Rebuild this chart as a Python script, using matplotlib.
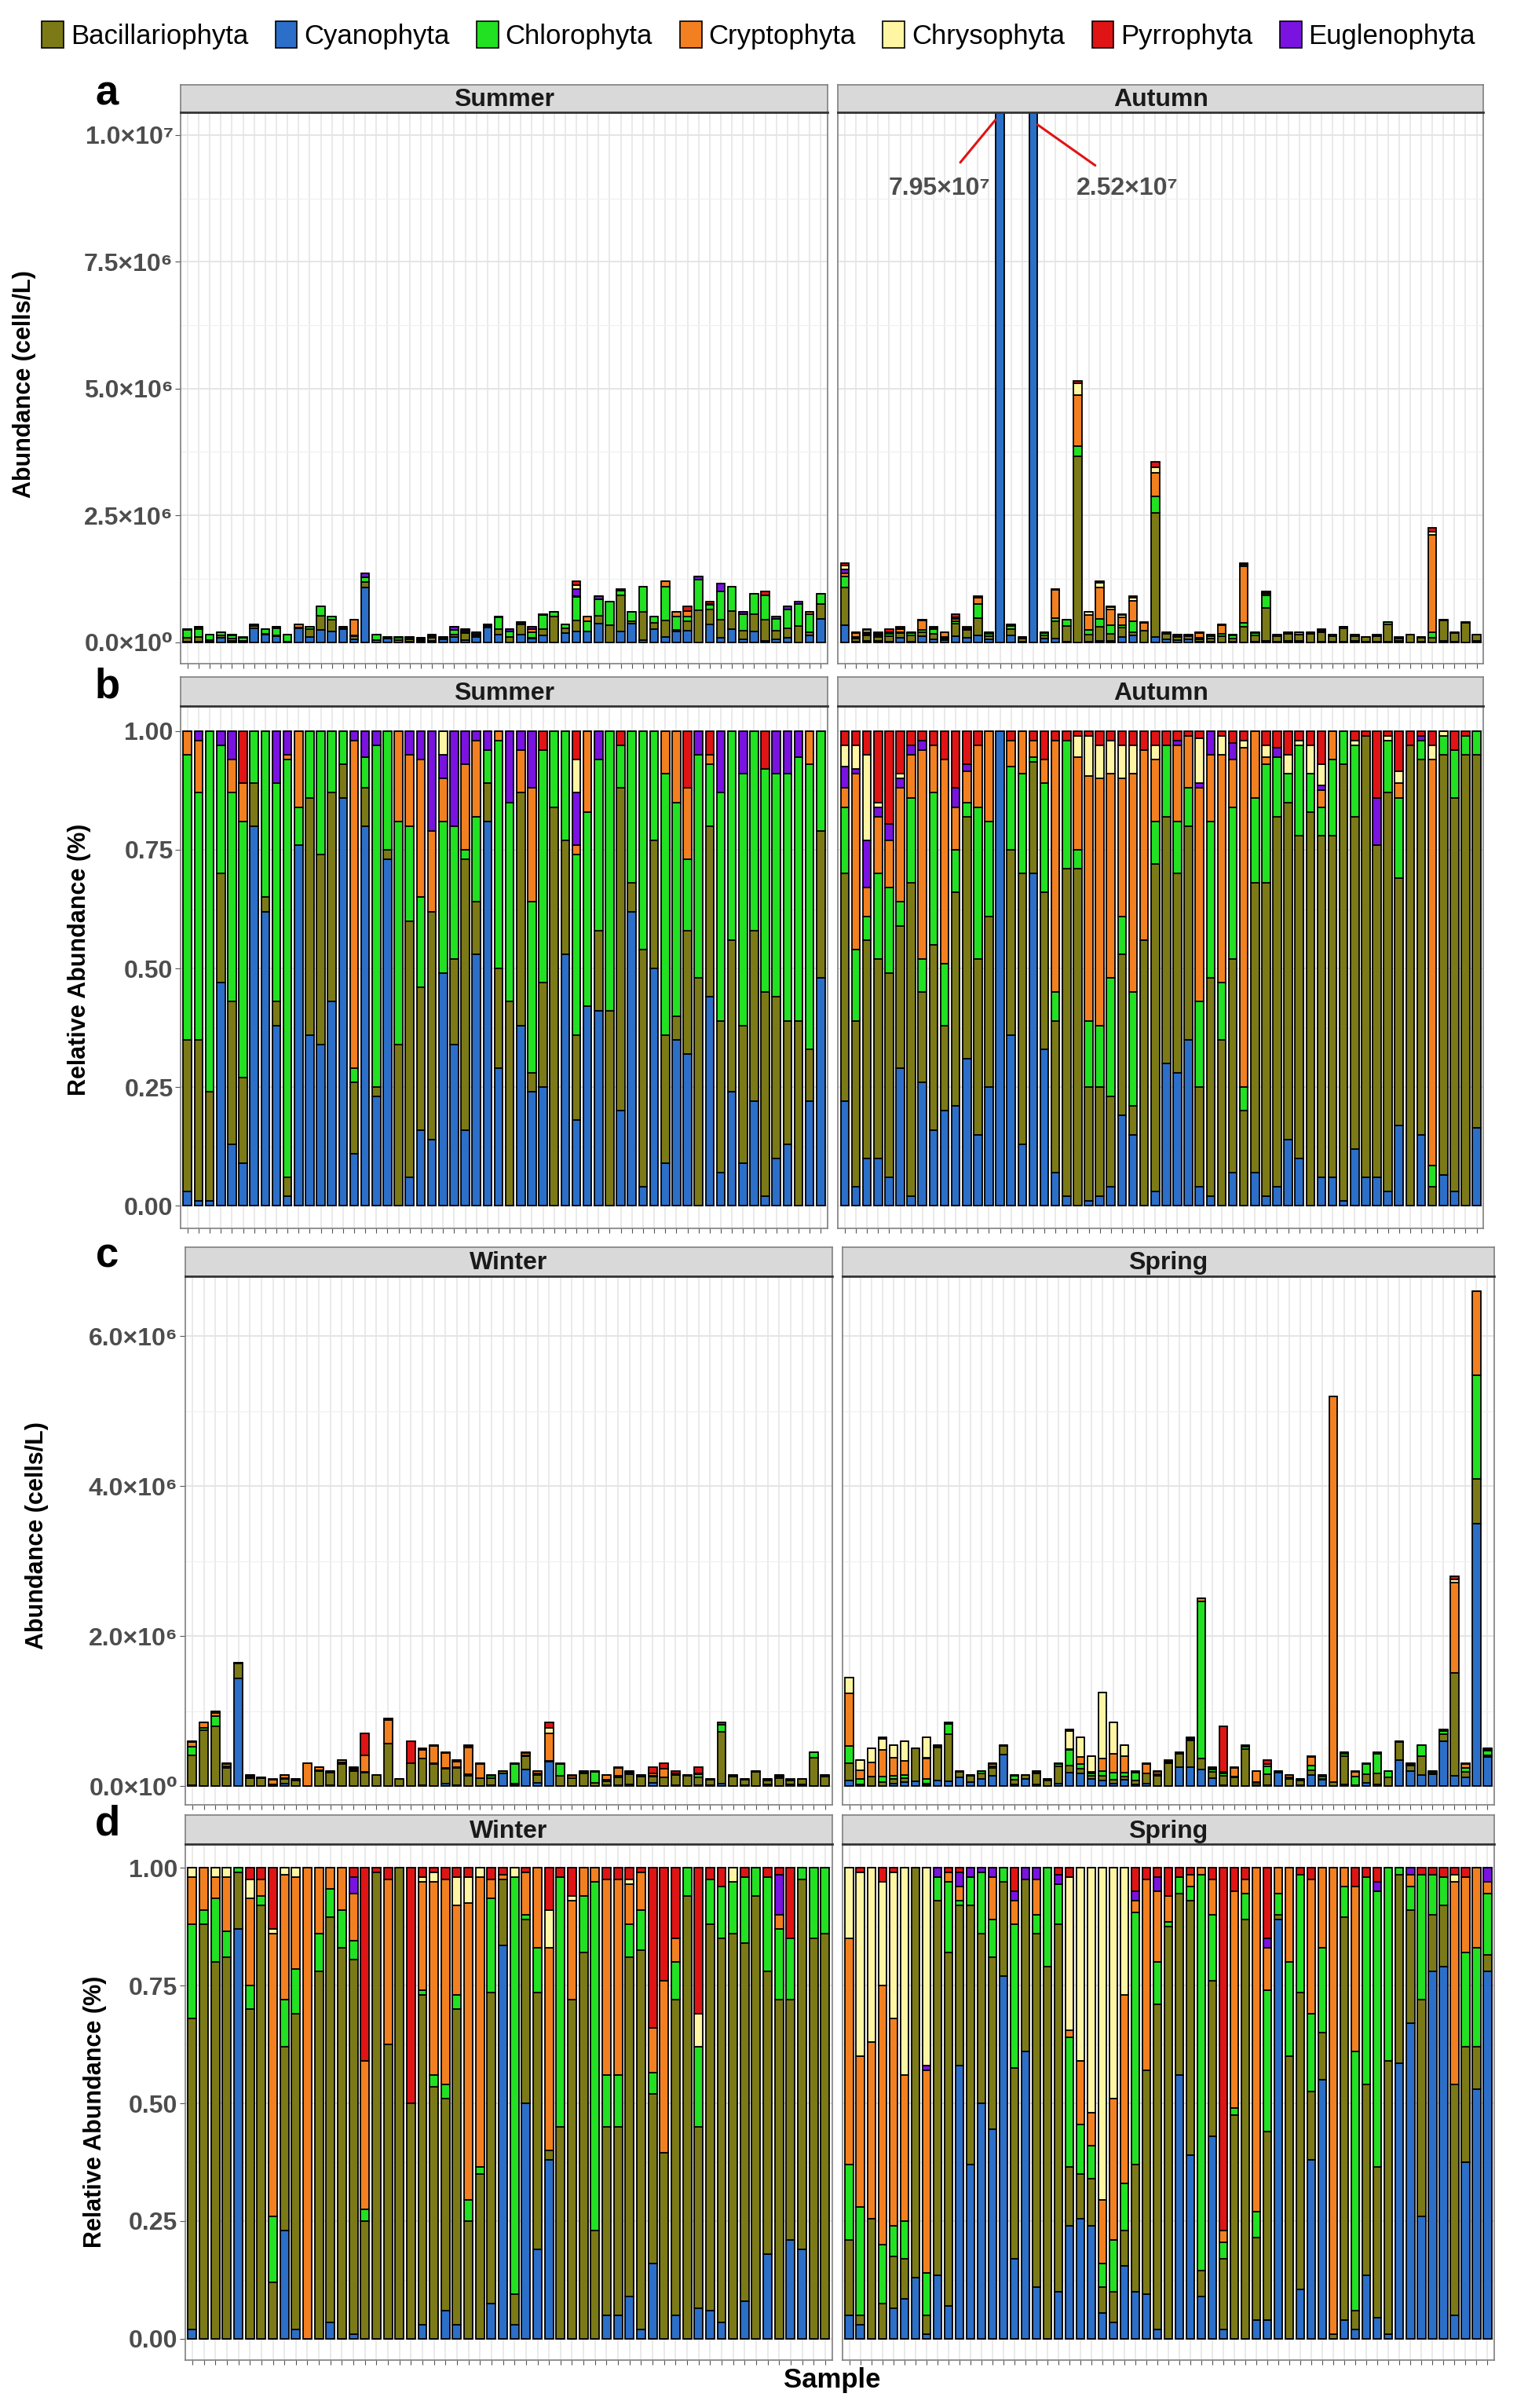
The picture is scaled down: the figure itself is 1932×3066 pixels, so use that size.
import matplotlib
matplotlib.use("Agg")
import matplotlib.pyplot as plt
import numpy as np
from matplotlib.patches import Patch
from matplotlib import font_manager

_names = {f.name for f in font_manager.fontManager.ttflist}
FONT = "Liberation Sans Narrow" if "Liberation Sans Narrow" in _names else "Liberation Sans"
plt.rcParams["font.family"] = [FONT, "DejaVu Sans"]

# legend order / colours
GROUPS = ["Bacillariophyta", "Cyanophyta", "Chlorophyta", "Cryptophyta",
          "Chrysophyta", "Pyrrophyta", "Euglenophyta"]
COLORS = {
    "Bacillariophyta": "#7b7a17",
    "Cyanophyta": "#2b6fc8",
    "Chlorophyta": "#22e022",
    "Cryptophyta": "#f28020",
    "Chrysophyta": "#fff5a3",
    "Pyrrophyta": "#e01414",
    "Euglenophyta": "#7a12e0",
}
# stacking order bottom -> top; each composition tuple follows this order
STACK = ["Cyanophyta", "Bacillariophyta", "Chlorophyta", "Cryptophyta",
         "Euglenophyta", "Chrysophyta", "Pyrrophyta"]

# relative composition (%): (Cyano, Bacil, Chloro, Crypto, Eugleno, Chryso, Pyrro)
summer_comp = [
    (3, 32, 60, 5, 0, 0, 0), (1, 34, 52, 11, 2, 0, 0), (1, 23, 76, 0, 0, 0, 0), (47, 23, 27, 0, 3, 0, 0),
    (13, 30, 44, 7, 6, 0, 0), (9, 18, 54, 8, 0, 0, 11), (80, 9, 11, 0, 0, 0, 0), (62, 3, 35, 0, 0, 0, 0),
    (38, 5, 46, 0, 11, 0, 0), (2, 4, 88, 1, 5, 0, 0), (76, 0, 8, 16, 0, 0, 0), (36, 50, 14, 0, 0, 0, 0),
    (34, 40, 26, 0, 0, 0, 0), (43, 44, 13, 0, 0, 0, 0), (86, 7, 7, 0, 0, 0, 0), (11, 15, 3, 69, 2, 0, 0),
    (80, 8, 6.5, 0, 5.5, 0, 0), (23, 2, 72, 0, 3, 0, 0), (73, 2, 25, 0, 0, 0, 0), (0, 34, 47, 19, 0, 0, 0),
    (6, 54, 20, 15, 5, 0, 0), (16, 30, 19, 29, 6, 0, 0), (14, 48, 0, 17, 21, 0, 0), (49, 0, 32, 9, 5, 5, 0),
    (34, 18, 28, 0, 20, 0, 0), (16, 57, 2, 18, 7, 0, 0), (53, 11, 18, 16, 2, 0, 0), (81, 8, 7, 0, 4, 0, 0),
    (29, 21, 48, 2, 0, 0, 0), (0, 43, 42, 0, 15, 0, 0), (38, 49, 0, 9, 4, 0, 0), (24, 4, 36, 24, 12, 0, 0),
    (25, 22, 49, 0, 0, 0, 4), (0, 84, 16, 0, 0, 0, 0), (53, 24, 23, 0, 0, 0, 0), (18, 18, 38, 2, 11, 7, 6),
    (42, 0, 41, 17, 0, 0, 0), (41, 17, 36, 0, 6, 0, 0), (0, 41, 59, 0, 0, 0, 0), (20, 68, 9, 0, 0, 0, 3),
    (62, 6, 32, 0, 0, 0, 0), (4, 50, 46, 0, 0, 0, 0), (50, 27, 23, 0, 0, 0, 0), (9, 27, 55, 9, 0, 0, 0),
    (35, 5, 45, 15, 0, 0, 0), (32, 26, 15, 15, 0, 0, 12), (0, 48, 47, 0, 5, 0, 0), (44, 36, 13, 2, 0, 0, 5),
    (7, 32, 48, 0, 13, 0, 0), (24, 32, 44, 0, 0, 0, 0), (9, 29, 53, 0, 9, 0, 0), (22, 36, 42, 0, 0, 0, 0),
    (2, 43, 47, 0, 0, 0, 8), (10, 34, 47, 0, 9, 0, 0), (13, 26, 52, 0, 9, 0, 0), (0, 39, 55.5, 0, 5.5, 0, 0),
    (22, 11, 60, 7, 0, 0, 0), (48, 31, 21, 0, 0, 0, 0),
]
autumn_comp = [
    (22, 48, 14, 4, 4.5, 4.5, 3), (4, 35, 15, 37, 1, 5, 3), (10, 46, 5, 6, 10, 18, 5), (10, 42, 18, 12, 2, 1, 15),
    (6, 43, 18, 10, 3.5, 0, 19.5), (29, 30, 5, 24, 2, 1, 9), (2, 66, 18, 9, 2, 0, 3), (26, 19, 7, 44, 2, 0, 2),
    (16, 39, 32, 10, 0, 0, 3), (20, 18, 13, 43, 0, 0, 6), (21, 45, 9, 9, 4, 0, 12), (31, 51, 3, 6.5, 1.5, 0, 7),
    (15, 37, 32, 13, 0, 0, 3), (25, 36, 20, 19, 0, 0, 0), (100, 0, 0, 0, 0, 0, 0), (36, 39, 17.5, 5.5, 0, 0, 2),
    (13, 57, 21, 9, 0, 0, 0), (70, 23.5, 1, 3.5, 0, 0, 2), (33, 33, 23, 5, 0, 0, 6), (7, 32, 6, 53, 0, 0, 2),
    (2, 69, 27, 0, 0, 0, 2), (0, 71, 4, 19.5, 0, 4.5, 1), (1, 24, 14, 51.5, 0, 8.5, 1), (2, 23, 13, 52, 0, 7, 3),
    (4, 19, 25, 43, 0, 7, 2), (19, 34, 8, 29, 0, 7, 3), (15, 6, 24, 46, 0, 6, 3), (0, 56, 0, 40, 0, 0, 4),
    (3, 69, 9, 13, 0, 3, 3), (30, 52, 15, 0, 0, 0, 3), (28, 42, 11, 16, 1, 0, 2), (35, 45, 8, 11, 0, 0, 1),
    (4, 21, 18, 45, 1, 9.5, 1.5), (2, 46, 33, 14, 5, 0, 0), (0, 35, 12, 48, 0, 4, 1), (7, 45, 32, 10, 3.5, 0, 2.5),
    (0, 20, 5, 71.5, 0, 1.5, 2), (7, 61, 18, 14, 0, 0, 0), (2, 66, 25, 1.5, 0, 2.5, 3), (4, 78, 12.5, 0, 2, 0, 3.5),
    (14, 71, 6, 0, 0, 4, 5), (10, 68, 19, 0, 0, 1, 2), (0, 83, 8, 0, 0, 6, 3), (6, 72, 6, 3.5, 1, 4.5, 7),
    (6, 72, 16, 6, 0, 0, 0), (1, 92, 7, 0, 0, 0, 0), (12, 70, 15, 0, 0, 1, 2), (6, 93, 0, 0, 0, 0, 1),
    (6, 70, 0, 0, 10, 0, 14), (3, 84, 11, 0, 0, 1, 1), (17, 52, 17, 3, 0, 2.5, 8.5), (0, 97, 0, 0, 0, 0, 3),
    (15, 79, 4, 0, 1, 0, 1), (0, 4, 4.5, 85.5, 0, 3, 3), (6.5, 88.5, 4, 0, 0, 1, 0), (3, 83, 10, 0, 0, 0, 4),
    (0, 95, 4, 0, 0, 0, 1), (16.5, 78.5, 5, 0, 0, 0, 0),
]
winter_comp = [
    (2, 66, 20, 10, 0, 2, 0), (0, 88, 3, 9, 0, 0, 0), (0, 80, 13.5, 4.5, 0, 2, 0), (0, 81, 5.5, 11.5, 0, 2, 0),
    (87, 12, 1, 0, 0, 0, 0), (0, 70, 5, 18.5, 0, 4, 2.5), (0, 92, 2, 3.5, 0, 0, 2.5), (0, 12, 14, 60, 0, 1, 13),
    (23, 39, 10, 26.5, 0, 1.5, 0), (2, 67, 9.5, 19.5, 0, 2, 0), (0, 0, 0, 100, 0, 0, 0), (0, 78, 8, 14, 0, 0, 0),
    (3.5, 86, 6, 4.5, 0, 0, 0), (0, 83, 8, 9, 0, 0, 0), (1, 79.5, 4, 10, 3.5, 0, 2), (0, 25, 2.5, 31.5, 0, 0, 41),
    (0, 99, 0, 0, 0, 0, 1), (0, 62.5, 0, 35, 0, 0, 2.5), (0, 100, 0, 0, 0, 0, 0), (0, 50, 0, 0, 0, 0, 50),
    (3, 70, 1, 23, 0, 1, 2), (0, 53.5, 2.5, 41, 0, 2, 1), (6, 45, 3, 43.5, 0, 0, 2.5), (3, 67, 3, 19, 0, 6, 2),
    (0, 25, 4.5, 63, 0, 5.5, 2), (0, 35, 1.5, 61.5, 0, 2, 0), (7.5, 66, 20, 4, 0, 0, 2.5), (83.5, 14, 0, 1, 0, 0, 1.5),
    (3, 6.5, 88.5, 0, 0, 2, 0), (50, 39, 1, 9, 0, 0, 1), (19, 54.5, 9.5, 17, 0, 0, 0), (38, 2, 0, 43, 0, 8, 9),
    (0, 45, 53, 0, 0, 0, 2), (0, 72, 0, 21, 0, 1, 6), (0, 82, 12, 6, 0, 0, 0), (0, 23, 74, 3, 0, 0, 0),
    (5, 40, 11, 41.5, 0, 0, 2.5), (5, 40, 11, 41.5, 0, 0, 2.5), (9, 72, 7, 8.5, 0, 1, 2.5), (2, 80.5, 8.5, 8, 0, 0, 1),
    (16, 36, 4.5, 9.5, 0, 0, 34), (0, 39.5, 0, 36.5, 0, 0, 24), (5, 67, 8, 5, 0, 0, 15), (0, 94, 6, 0, 0, 0, 0),
    (6.5, 38.5, 17, 0, 0, 7, 31), (6, 82, 9.5, 0, 0, 0, 2.5), (3.5, 81.5, 11, 0, 0, 0, 4), (0, 86, 11, 0, 0, 3, 0),
    (8, 76, 14, 0, 0, 0, 2), (0, 94, 6, 0, 0, 0, 0), (18, 60, 20, 0, 0, 0, 2), (0, 72, 15, 3, 8.5, 0, 1.5),
    (21, 51, 13, 0, 0, 0, 15), (19, 78.5, 2.5, 0, 0, 0, 0), (0, 85, 15, 0, 0, 0, 0), (0, 86, 14, 0, 0, 0, 0),
]
spring_comp = [
    (5, 16, 16, 48, 0, 15, 0), (3, 2, 23, 32, 0, 39, 1), (0, 25.5, 0, 37.5, 0, 37, 0), (0, 7.5, 12.5, 55, 0, 22, 3),
    (6.5, 11, 6.5, 44, 0, 31, 1), (8.5, 8.5, 8, 31, 0, 44, 0), (13, 87, 0, 0, 0, 0, 0), (1, 4, 9, 43, 1, 42, 0),
    (13.5, 79.5, 5, 0, 2, 0, 0), (7, 75, 15, 2, 0, 0, 1), (58, 34, 1, 3, 3, 0, 1), (37, 55, 6, 0, 2, 0, 0),
    (50, 36, 13, 0, 1, 0, 0), (44.5, 36.5, 8, 9, 2, 0, 0), (77, 20, 3, 0, 0, 0, 0), (17, 40.5, 30.5, 5, 2, 0, 5),
    (61, 36.5, 0, 0, 2.5, 0, 0), (11, 75, 4, 7.5, 2.5, 0, 0), (0, 79, 21, 0, 0, 0, 0), (10, 78, 8.5, 0, 2, 0, 1.5),
    (24, 12.5, 27.5, 1.5, 0, 32.5, 2), (25.5, 9.5, 10.5, 13.5, 0, 41, 0), (24, 10, 7, 7, 0, 52, 0), (5.5, 5.5, 5, 13.5, 0, 70.5, 0),
    (3.5, 6.5, 11, 30, 0, 49, 0), (15.5, 7.5, 10, 40, 0, 27, 0), (10, 27, 53.5, 2.5, 2, 0, 5), (9.5, 47.5, 0, 40.5, 0, 0, 2.5),
    (2, 69, 9, 15, 3, 0, 2), (0, 87.5, 1, 5.5, 0, 0, 6), (56, 38.5, 3.5, 0, 0, 0, 2), (39, 54, 3, 2.5, 0, 0, 1.5),
    (9, 5.5, 84, 1.5, 0, 0, 0), (43, 33, 14, 7.5, 0, 0, 2.5), (2, 15, 3.5, 2.5, 0, 0, 77), (0, 47.5, 1.5, 46, 0, 0, 5),
    (0, 89, 5.5, 3, 0, 0, 2.5), (4, 17.5, 5.5, 73, 0, 0, 0), (4, 40, 30, 9, 2, 0, 15), (89, 1, 4.5, 5.5, 0, 0, 0),
    (0, 60, 20, 20, 0, 0, 0), (10.5, 63, 25, 0, 0, 0, 1.5), (38, 14.5, 16.5, 28.5, 0, 0, 2.5), (55, 10, 18, 17, 0, 0, 0),
    (0, 1, 0, 99, 0, 0, 0), (4, 85.5, 6.5, 4, 0, 0, 0), (2, 4, 55, 35, 0, 0, 4), (13.5, 40.5, 44, 0, 0, 0, 2),
    (4.5, 32, 58.5, 0, 2, 0, 3), (1, 58, 41, 0, 0, 0, 0), (58.5, 40, 1.5, 0, 0, 0, 0), (67, 24, 5, 2.5, 1.5, 0, 0),
    (26, 46, 26.5, 0, 0, 0, 1.5), (78, 12, 8.5, 0, 0, 0, 1.5), (79, 13, 6, 0, 0, 0, 2), (5, 49, 0, 43, 0, 1.5, 1.5),
    (37.5, 24.5, 20, 16, 0, 0, 2), (53, 9, 21, 17, 0, 0, 0), (78, 3.5, 13, 2.5, 3, 0, 0),
]

# total abundance per sample (x10^6 cells/L)
summer_total = [
    0.25, 0.3, 0.15, 0.2, 0.15, 0.1, 0.35, 0.25, 0.3, 0.15,
    0.35, 0.3, 0.7, 0.5, 0.3, 0.45, 1.35, 0.15, 0.1, 0.1,
    0.1, 0.08, 0.15, 0.1, 0.3, 0.25, 0.2, 0.35, 0.5, 0.25,
    0.4, 0.3, 0.55, 0.6, 0.35, 1.2, 0.5, 0.9, 0.8, 1.05,
    0.6, 1.1, 0.5, 1.2, 0.6, 0.7, 1.3, 0.8, 1.15, 1.1,
    0.6, 0.95, 1.0, 0.5, 0.7, 0.8, 0.6, 0.95,
]
autumn_total = [
    1.55, 0.2, 0.25, 0.2, 0.25, 0.3, 0.2, 0.45, 0.3, 0.2,
    0.55, 0.3, 0.9, 0.2, 79.5, 0.35, 0.1, 25.2, 0.2, 1.05,
    0.45, 5.15, 0.6, 1.2, 0.7, 0.55, 0.9, 0.4, 3.55, 0.2,
    0.15, 0.15, 0.2, 0.15, 0.35, 0.15, 1.55, 0.2, 1.0, 0.15,
    0.2, 0.2, 0.2, 0.25, 0.15, 0.3, 0.15, 0.1, 0.15, 0.4,
    0.1, 0.15, 0.1, 2.25, 0.45, 0.2, 0.4, 0.15,
]
winter_total = [
    0.6, 0.85, 1.0, 0.3, 1.65, 0.15, 0.12, 0.1, 0.15, 0.1,
    0.3, 0.25, 0.2, 0.35, 0.25, 0.7, 0.15, 0.9, 0.1, 0.6,
    0.5, 0.55, 0.45, 0.35, 0.55, 0.3, 0.15, 0.2, 0.3, 0.45,
    0.2, 0.85, 0.3, 0.15, 0.2, 0.2, 0.15, 0.25, 0.2, 0.15,
    0.25, 0.3, 0.2, 0.15, 0.25, 0.1, 0.85, 0.15, 0.1, 0.2,
    0.1, 0.15, 0.1, 0.1, 0.45, 0.15,
]
spring_total = [
    1.45, 0.35, 0.5, 0.65, 0.55, 0.6, 0.5, 0.65, 0.55, 0.85,
    0.2, 0.15, 0.2, 0.3, 0.55, 0.15, 0.15, 0.2, 0.1, 0.3,
    0.75, 0.65, 0.4, 1.25, 0.85, 0.55, 0.2, 0.3, 0.2, 0.35,
    0.45, 0.65, 2.5, 0.25, 0.8, 0.25, 0.55, 0.2, 0.35, 0.2,
    0.15, 0.1, 0.4, 0.15, 5.2, 0.45, 0.2, 0.3, 0.45, 0.2,
    0.6, 0.3, 0.55, 0.2, 0.75, 2.8, 0.3, 6.6, 0.5,
]

W, H = 990.0, 1568.0  # layout measured in reference pixel units


def box(x0, y0, x1, y1):
    return [x0 / W, 1 - y1 / H, (x1 - x0) / W, (y1 - y0) / H]


def draw_bars(ax, comp, total=None):
    comp = np.array(comp, dtype=float)
    frac = comp / comp.sum(axis=1, keepdims=True)
    vals = frac if total is None else frac * np.array(total)[:, None] * 1e6
    x = np.arange(1, len(comp) + 1)
    bottom = np.zeros(len(comp))
    for k, name in enumerate(STACK):
        v = vals[:, k]
        ax.bar(x, v, bottom=bottom, width=0.75, color=COLORS[name],
               edgecolor="black", linewidth=1.3, zorder=3)
        bottom += v
    ax.set_xlim(0.4, len(comp) + 0.6)
    ax.set_xticks(x)
    ax.set_xticklabels([])
    ax.tick_params(axis="x", length=4, color="#555555")
    ax.grid(True, axis="x", color="#e6e6e6", linewidth=1.2, zorder=0)


def style(ax, ticks, labels, show_y):
    ax.set_yticks(ticks)
    ax.set_yticks([(a + b) / 2 for a, b in zip(ticks[:-1], ticks[1:])], minor=True)
    ax.grid(True, axis="y", which="major", color="#e3e3e3", linewidth=1.3, zorder=0)
    ax.grid(True, axis="y", which="minor", color="#f0f0f0", linewidth=0.9, zorder=0)
    ax.tick_params(axis="y", which="minor", length=0)
    if show_y:
        ax.set_yticklabels(labels, fontsize=23, fontweight="bold", color="#4d4d4d")
        ax.tick_params(axis="y", length=5, color="#555555", pad=2)
    else:
        ax.set_yticklabels([])
        ax.tick_params(axis="y", length=0)
    for s in ax.spines.values():
        s.set_color("#7f7f7f")
        s.set_linewidth(1.2)


def strip(fig, rect, label):
    sax = fig.add_axes(rect)
    sax.set_facecolor("#d9d9d9")
    sax.set_xticks([])
    sax.set_yticks([])
    for s in sax.spines.values():
        s.set_color("#7f7f7f")
        s.set_linewidth(1.2)
    sax.spines["bottom"].set_color("#333333")
    sax.spines["bottom"].set_linewidth(2)
    sax.text(0.5, 0.45, label, ha="center", va="center", fontsize=23,
             fontweight="bold", color="#1a1a1a", transform=sax.transAxes)


fig = plt.figure(figsize=(19.32, 30.66), dpi=100)

abs_ticks_a = [0, 2.5e6, 5e6, 7.5e6, 1e7]
abs_labels_a = ["0.0×10⁰", "2.5×10⁶", "5.0×10⁶", "7.5×10⁶", "1.0×10⁷"]
abs_ticks_c = [0, 2e6, 4e6, 6e6]
abs_labels_c = ["0.0×10⁰", "2.0×10⁶", "4.0×10⁶", "6.0×10⁶"]
rel_ticks = [0, 0.25, 0.5, 0.75, 1.0]
rel_labels = ["0.00", "0.25", "0.50", "0.75", "1.00"]

rows = [
    # (x-ranges, strip y, plot y, seasons, comps, totals, ylim, ticks, labels, letter)
    ([(118, 540), (547, 968)], (55, 73), (73, 432), ["Summer", "Autumn"],
     [summer_comp, autumn_comp], [summer_total, autumn_total], (-0.42e6, 10.45e6),
     abs_ticks_a, abs_labels_a, "a"),
    ([(118, 540), (547, 968)], (441, 460), (460, 800), ["Summer", "Autumn"],
     [summer_comp, autumn_comp], None, (-0.048, 1.052), rel_ticks, rel_labels, "b"),
    ([(121, 543), (550, 975)], (812, 831), (831, 1175), ["Winter", "Spring"],
     [winter_comp, spring_comp], [winter_total, spring_total], (-0.246e6, 6.8e6),
     abs_ticks_c, abs_labels_c, "c"),
    ([(121, 543), (550, 975)], (1182, 1201), (1201, 1537), ["Winter", "Spring"],
     [winter_comp, spring_comp], None, (-0.046, 1.05), rel_ticks, rel_labels, "d"),
]

axes_a = []
for xr, sy, py, seasons, comps, totals, ylim, ticks, labels, letter in rows:
    row_axes = []
    for j in range(2):
        x0, x1 = xr[j]
        ax = fig.add_axes(box(x0, py[0], x1, py[1]))
        draw_bars(ax, comps[j], None if totals is None else totals[j])
        ax.set_ylim(*ylim)
        style(ax, ticks, labels, j == 0)
        strip(fig, box(x0, sy[0], x1, sy[1]), seasons[j])
        row_axes.append(ax)
    fig.text(70 / W, 1 - (sy[0] + 6) / H, letter, fontsize=38, fontweight="bold",
             ha="center", va="center")
    if letter == "a":
        axes_a = row_axes

ylab = dict(rotation=90, fontsize=22, fontweight="bold", ha="center", va="center")
fig.text(16 / W, 1 - 250 / H, "Abundance (cells/L)", **ylab)
fig.text(52 / W, 1 - 625 / H, "Relative Abundance (%)", **ylab)
fig.text(24 / W, 1 - 1000 / H, "Abundance (cells/L)", **ylab)
fig.text(62 / W, 1 - 1375 / H, "Relative Abundance (%)", **ylab)
fig.text(543 / W, 1 - 1550 / H, "Sample", fontsize=25, fontweight="bold",
         ha="center", va="center")

# labels for the two clipped bars in Autumn
ax_aut = axes_a[1]
ax_aut.annotate("7.95×10⁷", xy=(14.6, 10.3e6), xytext=(9.5, 8.95e6),
                fontsize=23, fontweight="bold", color="#4d4d4d", ha="center", va="center",
                arrowprops=dict(arrowstyle="-", color="#e01414", lw=2.2, shrinkA=14, shrinkB=0))
ax_aut.annotate("2.52×10⁷", xy=(18.4, 10.2e6), xytext=(26.5, 8.95e6),
                fontsize=23, fontweight="bold", color="#4d4d4d", ha="center", va="center",
                arrowprops=dict(arrowstyle="-", color="#e01414", lw=2.2, shrinkA=14, shrinkB=0))

handles = [Patch(facecolor=COLORS[g], edgecolor="black", linewidth=1.2, label=g) for g in GROUPS]
fig.legend(handles=handles, loc="center", bbox_to_anchor=(0.5, 1 - 23 / H), ncol=7,
           frameon=False, fontsize=25, handlelength=0.8, handleheight=1.1,
           handletextpad=0.25, columnspacing=1.0)

fig.savefig("out.png", dpi=100)
